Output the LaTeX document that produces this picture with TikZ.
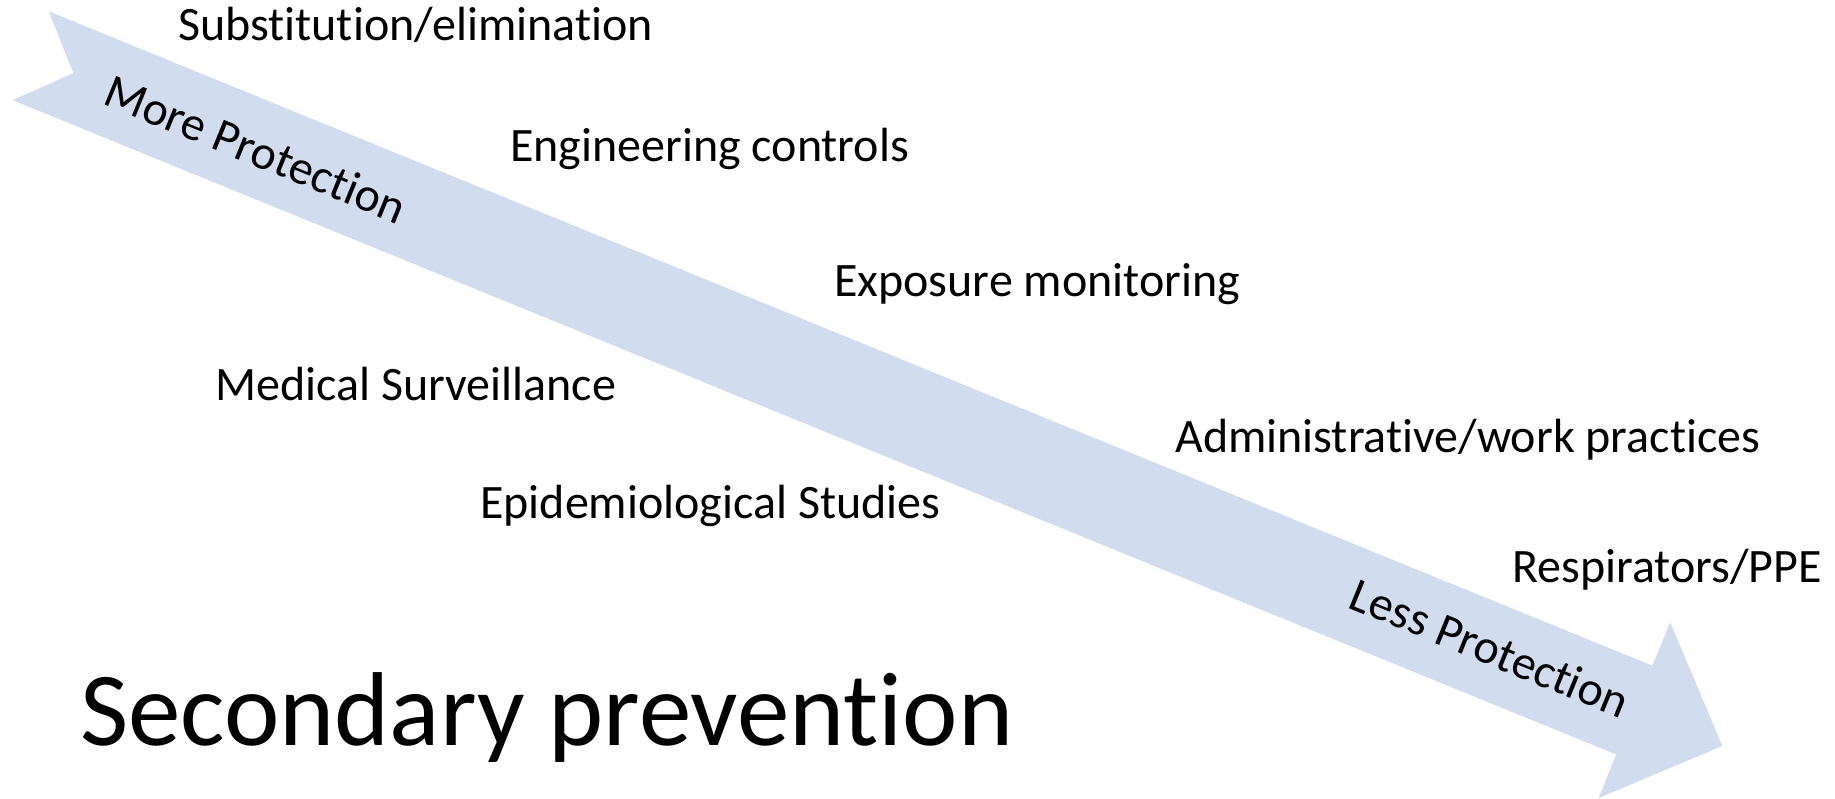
\documentclass[tikz,border=0pt]{standalone}
\usepackage{fontspec}
\setmainfont{Carlito}[Ligatures=NoCommon]
\begin{document}
\begin{tikzpicture}[x=1pt,y=-1pt,
  lbl/.style={anchor=base west, inner sep=0pt, font=\fontsize{48}{57}\selectfont, text=black},
  arrowlbl/.style={anchor=center, inner sep=0pt, rotate=-22.2, font=\fontsize{48}{57}\selectfont, text=black},
  bigtitle/.style={anchor=base west, inner sep=0pt, font=\fontsize{105}{120}\selectfont, text=black}]
\definecolor{arrowblue}{RGB}{209,221,239}
\fill[white] (0,0) rectangle (1835,799);
\useasboundingbox (0,0) rectangle (1835,799);
% big arrow
\fill[arrowblue] (48.8,11.4) -- (73.3,73.1) -- (12.6,100.2) -- (1616.2,754.5) -- (1598.4,798.1)
  -- (1722.3,746) -- (1670.2,622.1) -- (1652.4,665.7) -- cycle;
\node[arrowlbl] (more) at (256,149) {More Protection};
\node[arrowlbl] (less) at (1490,648) {Less Protection};
% labels
\node[lbl] (subst) at (178,41) {Substitution/elimination};
\node[lbl] (eng) at (510,161.5) {Engineering controls};
\node[lbl] (expo) at (834,297) {Exposure monitoring};
\node[lbl] (med) at (215,400) {Medical Surveillance};
\node[lbl] (admin) at (1175,452) {Administrative/work practices};
\node[lbl] (epi) at (480,518) {Epidemiological Studies};
\node[lbl] (resp) at (1512,582) {Respirators/PPE};
\node[bigtitle] (sec) at (80,745.5) {Secondary prevention};
\end{tikzpicture}
\end{document}
